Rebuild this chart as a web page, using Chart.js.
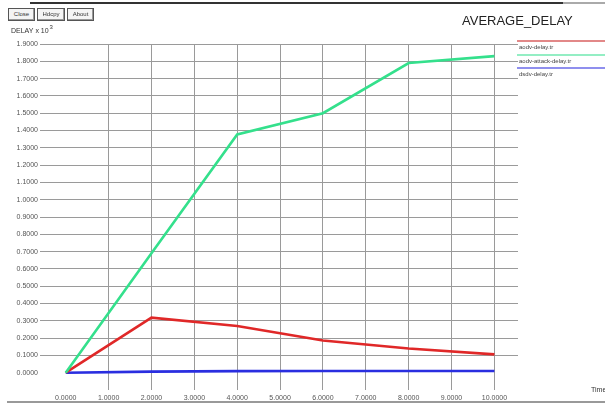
<!DOCTYPE html>
<html>
<head>
<meta charset="utf-8">
<script src="https://cdn.jsdelivr.net/npm/chart.js@4/dist/chart.umd.min.js"></script>
<style>
  html, body { margin: 0; padding: 0; background: #fff; }
  #wrap { position: relative; width: 605px; height: 407px; overflow: hidden; font-family: "Liberation Sans", Arial, sans-serif; }
  canvas { position: absolute; left: 0; top: 0; }
  .btn { position: absolute; top: 8px; height: 11px; border: 1px solid #555; box-shadow: inset -1px -1px 0 #999; font-size: 6px; line-height: 11px; color: #333; text-align: center; background: #f4f4f4; }
  .frameTop { position: absolute; left: 30px; top: 2px; width: 533px; height: 2px; background: #333; }
  .frameTop2 { position: absolute; left: 563px; top: 2px; width: 42px; height: 2px; background: #aaa; }
  .frameBottom { position: absolute; left: 7px; top: 401px; width: 598px; height: 2px; background: #999; }
</style>
</head>
<body>
<div id="wrap">
  <canvas id="c" width="605" height="407"></canvas>
  <div class="frameTop"></div>
  <div class="frameTop2"></div>
  <div class="frameBottom"></div>
  <div class="btn" style="left:8px;width:25px;">Close</div>
  <div class="btn" style="left:37px;width:26px;">Hdcpy</div>
  <div class="btn" style="left:67px;width:25px;">About</div>
</div>
<script>
// simulation time (x) and average delay (x 10^3) per trace file
const simTime = [0, 2, 4, 6, 8, 10];
const aodvDelay = [0, 0.318, 0.27, 0.186, 0.14, 0.106];
const aodvAttackDelay = [0, 0.69, 1.377, 1.50, 1.79, 1.83];
const thirdDelay = [0, 0.006, 0.009, 0.01, 0.01, 0.01];

const seriesNames = ['aodv-delay.tr', 'aodv-attack-delay.tr', 'dsdv-delay.tr'];
const seriesColors = ['#e02828', '#34e08c', '#2a2ee0'];
const legendColors = ['#d86060', '#70e8b0', '#6a6ae8'];

const xTicks = [0, 1, 2, 3, 4, 5, 6, 7, 8, 9, 10];
const yTicks = [0, 0.1, 0.2, 0.3, 0.4, 0.5, 0.6, 0.7, 0.8, 0.9, 1.0,
                1.1, 1.2, 1.3, 1.4, 1.5, 1.6, 1.7, 1.8, 1.9];

const chartTitle = 'AVERAGE_DELAY';
const yAxisLabel = 'DELAY x 10';
const yAxisExp = '3';
const xAxisLabel = 'Time';

const toPoints = (ys) => simTime.map((x, i) => ({ x: x, y: ys[i] }));

const series = [aodvDelay, aodvAttackDelay, thirdDelay];
const datasets = series.map((ys, i) => ({
  label: seriesNames[i],
  data: toPoints(ys),
  borderColor: seriesColors[i],
  backgroundColor: seriesColors[i],
  borderWidth: 2.6,
  pointRadius: 0,
  showLine: true,
  tension: 0,
  fill: false
}));

const gridColor = (ctx) => (ctx.tick && ctx.tick.value === 0) ? 'rgba(0,0,0,0)' : '#9a9a9a';

const decorations = {
  id: 'decorations',
  afterDraw(chart) {
    const ctx = chart.ctx;
    const area = chart.chartArea;
    ctx.save();
    // title
    ctx.fillStyle = '#222';
    ctx.font = '13px "Liberation Sans", Arial, sans-serif';
    ctx.textBaseline = 'alphabetic';
    ctx.textAlign = 'left';
    ctx.fillText(chartTitle, 462, 25);
    // y axis label with exponent
    ctx.font = '7px "Liberation Sans", Arial, sans-serif';
    ctx.fillStyle = '#333';
    ctx.fillText(yAxisLabel, 11, 33);
    const w = ctx.measureText(yAxisLabel).width;
    ctx.font = '6px "Liberation Sans", Arial, sans-serif';
    ctx.fillText(yAxisExp, 11 + w + 1, 29);
    // x axis label
    ctx.font = '7px "Liberation Sans", Arial, sans-serif';
    ctx.fillText(xAxisLabel, 591, 392);
    // legend
    const ys = [41, 55, 68];
    for (let i = 0; i < seriesNames.length; i++) {
      ctx.strokeStyle = legendColors[i];
      ctx.lineWidth = 1.5;
      ctx.beginPath();
      ctx.moveTo(area.right - 1, ys[i]);
      ctx.lineTo(605, ys[i]);
      ctx.stroke();
      ctx.fillStyle = '#444';
      ctx.font = '6px "Liberation Sans", Arial, sans-serif';
      ctx.textBaseline = 'middle';
      ctx.fillText(seriesNames[i], area.right + 1, ys[i] + 6);
    }
    ctx.restore();
  }
};

new Chart(document.getElementById('c'), {
  type: 'scatter',
  data: { datasets: [datasets[1], datasets[0], datasets[2]] },
  options: {
    responsive: false,
    animation: false,
    devicePixelRatio: 1,
    layout: { padding: { left: 0, top: 44, right: 87, bottom: 0 } },
    plugins: { legend: { display: false }, tooltip: { enabled: false }, title: { display: false } },
    scales: {
      x: {
        type: 'linear',
        min: -0.6,
        max: 10.55,
        afterBuildTicks: (s) => { s.ticks = xTicks.map(v => ({ value: v })); },
        afterFit: (s) => { s.height = 17; },
        border: { display: false },
        grid: { color: gridColor, lineWidth: 1, drawTicks: false },
        ticks: {
          autoSkip: false, maxRotation: 0, padding: 4,
          color: '#555',
          font: { family: '"Liberation Sans", Arial, sans-serif', size: 7 },
          callback: (v) => Number(v).toFixed(4)
        }
      },
      y: {
        type: 'linear',
        min: -0.1,
        max: 1.9,
        afterBuildTicks: (s) => { s.ticks = yTicks.map(v => ({ value: v })); },
        afterFit: (s) => { s.width = 40; },
        border: { display: false },
        grid: { color: gridColor, lineWidth: 1, drawTicks: false },
        ticks: {
          autoSkip: false, padding: 2,
          color: '#555',
          font: { family: '"Liberation Sans", Arial, sans-serif', size: 7 },
          callback: (v) => Number(v).toFixed(4)
        }
      }
    }
  },
  plugins: [decorations]
});
</script>
</body>
</html>
